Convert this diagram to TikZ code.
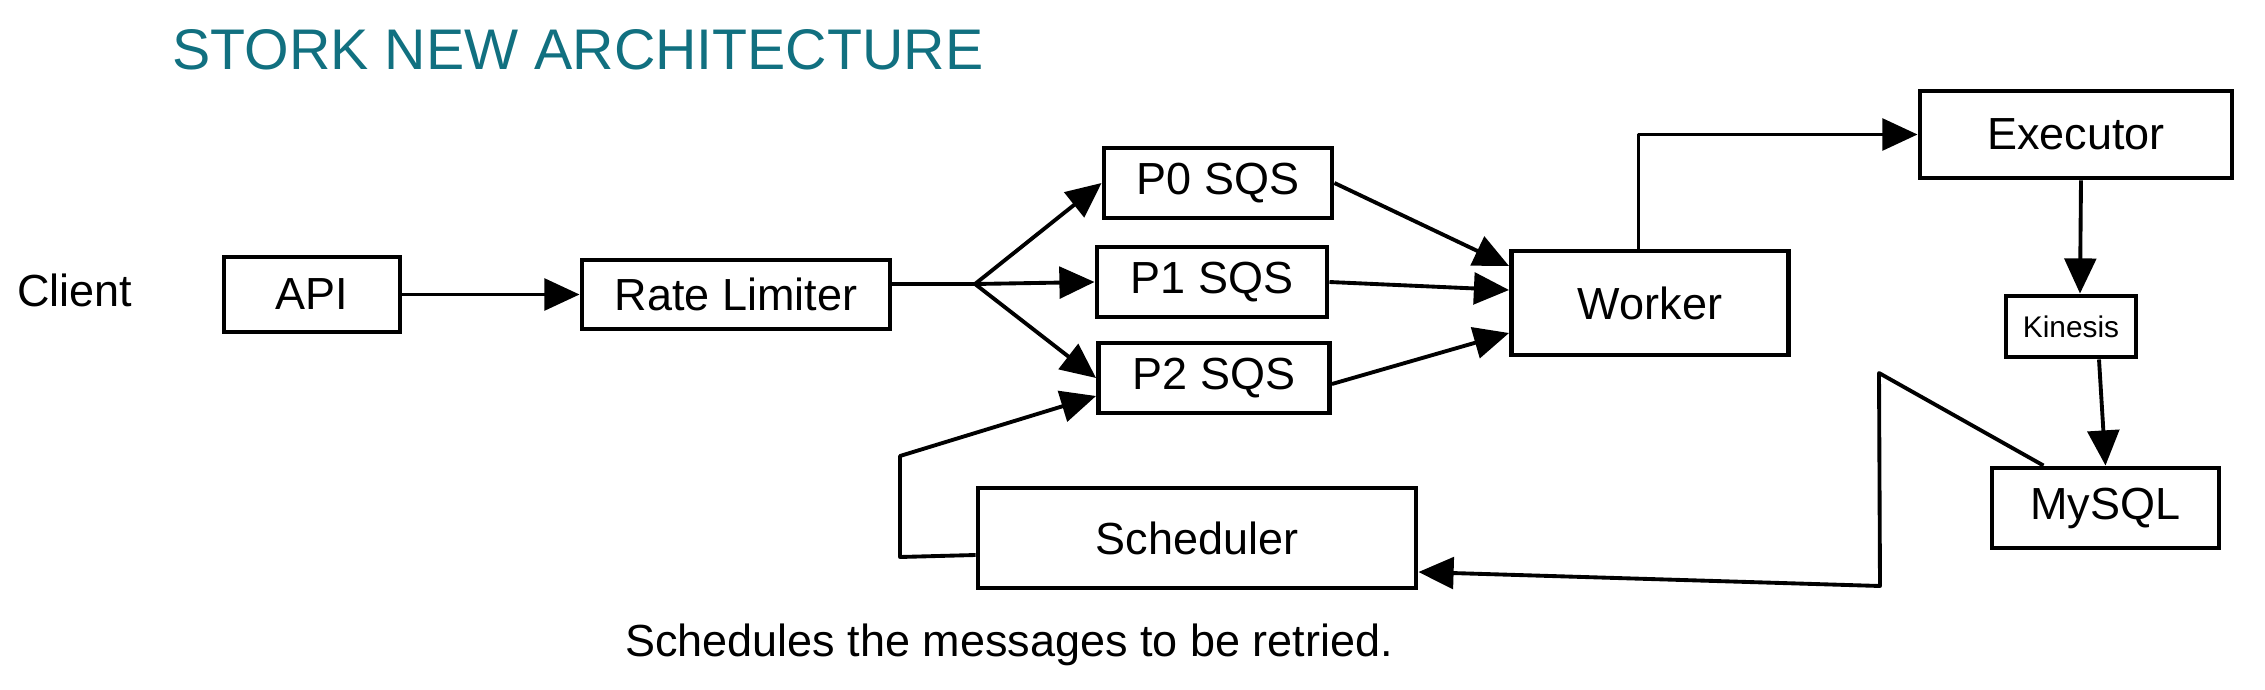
\documentclass[tikz,border=0pt]{standalone}
\usepackage{fontspec}
\setmainfont{Liberation Sans}
\usepackage{xcolor}
\usepackage{tikz}
\usetikzlibrary{arrows.meta}

\definecolor{StorkTeal}{RGB}{17,112,128}

\begin{document}
\begin{tikzpicture}[scale=1, >={Triangle[length=10pt,width=9pt]},
    box/.style={draw, line width=1.4pt, inner sep=0pt, font=\fontsize{12.8}{15}\selectfont},
    flow/.style={->, line width=1.1pt, line join=round}]

    \useasboundingbox (0,0) rectangle (22.65,-6.9);

    \node [font=\fontsize{16.3}{19}\selectfont, color=StorkTeal] (title) at (5.78,-0.50){STORK NEW ARCHITECTURE};
    \node [font=\fontsize{12.8}{15}\selectfont] (client) at (0.75,-2.90){Client};

    \node [box, minimum width=1.76cm, minimum height=0.75cm] (api) at (3.12,-2.945){API};
    \node [box, minimum width=3.08cm, minimum height=0.69cm] (ratelimiter) at (7.36,-2.945){Rate Limiter};

    \node [box, minimum width=2.28cm, minimum height=0.70cm] (p0) at (12.18,-1.83){P0 SQS};
    \node [box, minimum width=2.30cm, minimum height=0.70cm] (p1) at (12.12,-2.82){P1 SQS};
    \node [box, minimum width=2.31cm, minimum height=0.70cm] (p2) at (12.14,-3.78){P2 SQS};

    \node [box, minimum width=2.77cm, minimum height=1.04cm] (worker) at (16.50,-3.03){Worker};
    \node [box, minimum width=3.12cm, minimum height=0.87cm] (executor) at (20.76,-1.345){Executor};
    \node [box, minimum width=1.30cm, minimum height=0.61cm, font=\fontsize{8.5}{10}\selectfont] (kinesis) at (20.71,-3.265){Kinesis};
    \node [box, minimum width=2.27cm, minimum height=0.80cm] (mysql) at (21.055,-5.08){MySQL};
    \node [box, minimum width=4.38cm, minimum height=1.00cm] (scheduler) at (11.97,-5.38){Scheduler};

    \node [font=\fontsize{12.8}{15}\selectfont] (note) at (10.09,-6.45){Schedules the messages to be retried.};

    % intake
    \draw [flow] (api) -- (ratelimiter);
    \coordinate (split) at (9.75,-2.84);
    \draw [line width=1.1pt] (ratelimiter.east |- split) -- (split);
    \draw [flow] (split) -- (p0.west);
    \draw [flow] (split) -- (p1.west);
    \draw [flow] (split) -- (p2.west);

    % queues to worker
    \draw [flow] (p0.east) -- ([yshift=0.37cm]worker.west);
    \draw [flow] (p1.east) -- ([yshift=0.13cm]worker.west);
    \draw [flow] ([yshift=-0.06cm]p2.east) -- ([yshift=-0.30cm]worker.west);

    \draw [flow] ([xshift=-0.115cm]worker.north) |- (executor.west);
    \draw [flow] ([xshift=0.05cm]executor.south) -- ([xshift=0.09cm]kinesis.north);
    \draw [flow] ([xshift=0.28cm]kinesis.south) -- (mysql.north);

    % retry loop
    \coordinate (turnup) at (18.79,-3.73);
    \coordinate (turndown) at (18.80,-5.86);
    \draw [flow] ([xshift=-0.62cm]mysql.north) -- (turnup) -- (turndown) -- ([yshift=-0.34cm]scheduler.east);
    \coordinate (loopdown) at (9.00,-5.57);
    \coordinate (loopup) at (9.00,-4.56);
    \draw [flow] ([yshift=-0.17cm]scheduler.west) -- (loopdown) -- (loopup) -- ([yshift=-0.18cm]p2.west);

\end{tikzpicture}
\end{document}
